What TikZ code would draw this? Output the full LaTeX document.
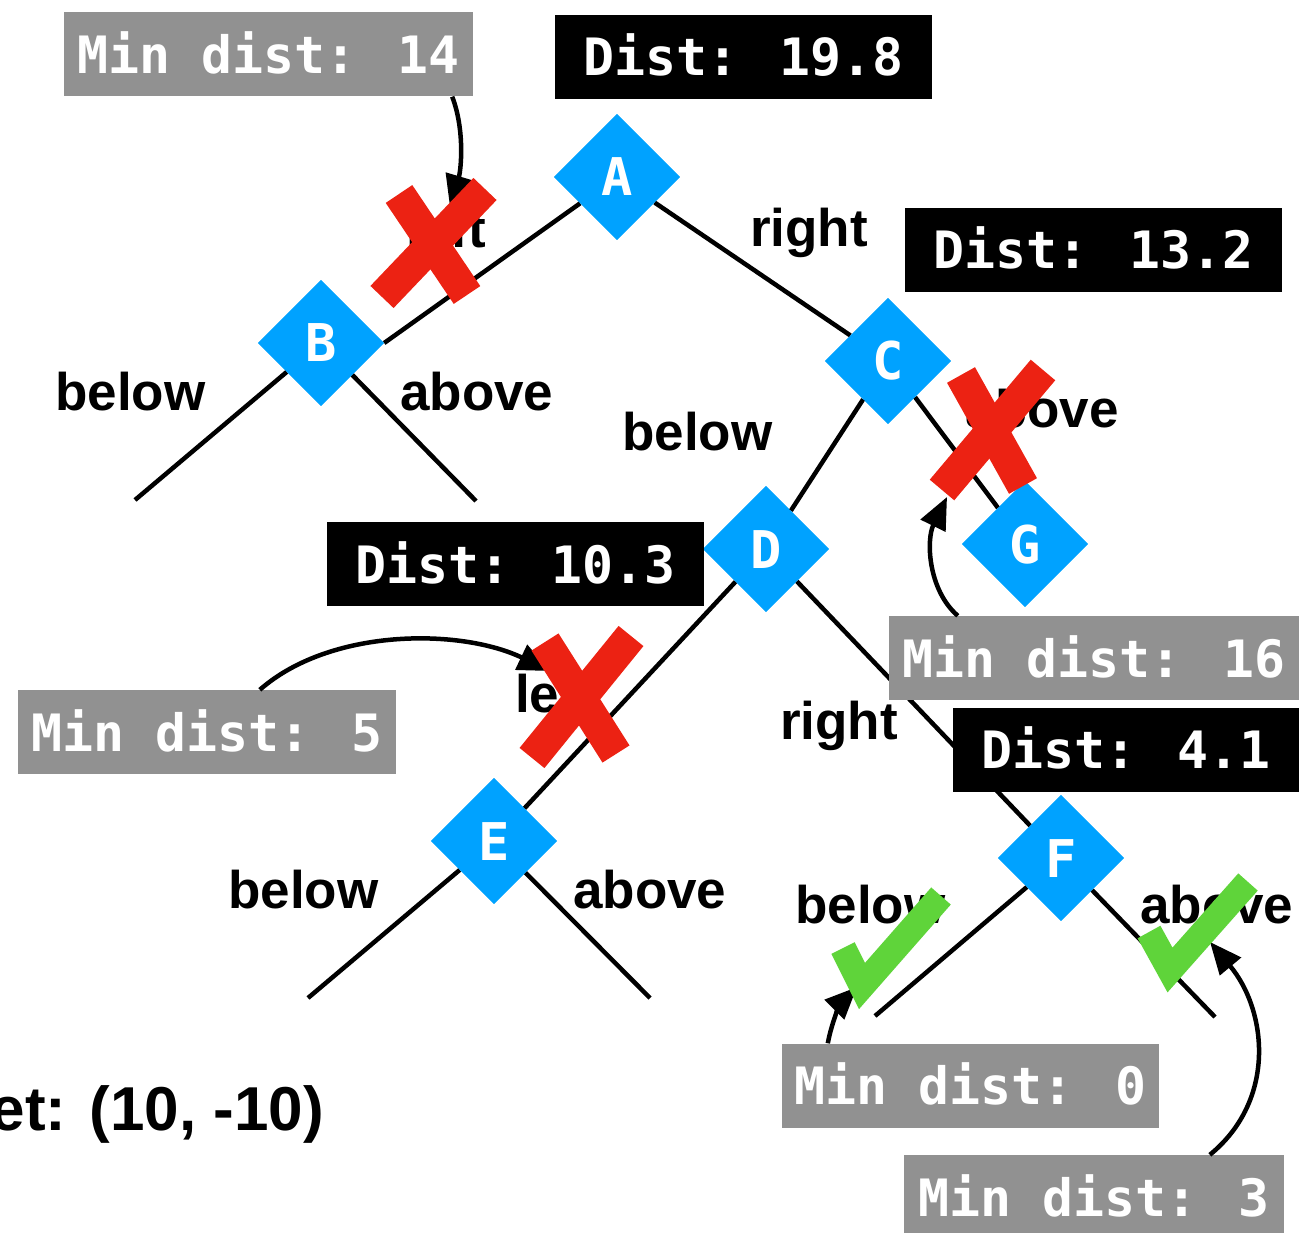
\documentclass[tikz,border=0pt]{standalone}
\usepackage{fontspec}
\setmainfont{Liberation Sans}
\newfontfamily\codefont{DejaVu Sans Mono}
\usetikzlibrary{shapes.geometric,arrows.meta}

\definecolor{nodeblue}{HTML}{00A2FF}
\definecolor{boxgray}{HTML}{919191}
\definecolor{crossred}{HTML}{EC2213}
\definecolor{checkgreen}{HTML}{5FD43A}

\tikzset{
  x=1pt, y=-1pt,
  edge/.style={line width=4.5pt},
  tnode/.style={diamond, fill=nodeblue, minimum size=126pt, inner sep=0pt,
    text=white, font=\codefont\bfseries\fontsize{52}{60}\selectfont,
    text height=38pt, text depth=0pt},
  distbox/.style={fill=black, text=white, inner sep=0pt, minimum height=84pt,
    font=\codefont\bfseries\fontsize{51.5}{60}\selectfont,
    text height=38pt, text depth=0pt},
  mindbox/.style={distbox, fill=boxgray},
  lbl/.style={font=\bfseries\fontsize{53}{60}\selectfont, inner sep=0pt},
  pointer/.style={line width=4.5pt, -{Triangle[length=32pt,width=27pt]}},
  crossmark/.style={line width=32pt, crossred},
  checkmark/.style={line width=26pt, checkgreen, line join=miter},
}

\begin{document}
\begin{tikzpicture}
\useasboundingbox (0,0) rectangle (1299,1233);

% tree nodes
\node[tnode] (A) at (617,177) {A};
\node[tnode] (B) at (321,343) {B};
\node[tnode] (C) at (888,361) {C};
\node[tnode] (D) at (766,549) {D};
\node[tnode] (E) at (494,841) {E};
\node[tnode] (F) at (1061,858) {F};
\node[tnode] (G) at (1025,544) {G};

% open leaf ends
\coordinate (Bl) at (135,500);
\coordinate (Br) at (476,501);
\coordinate (El) at (308,998);
\coordinate (Er) at (650,998);
\coordinate (Fl) at (875,1016);
\coordinate (Fr) at (1215,1017);

% branches
\draw[edge] (A) -- (B.east);
\draw[edge] (A) -- (C);
\draw[edge] (B) -- (Bl);
\draw[edge] (B) -- (Br);
\draw[edge] (C) -- (D);
\draw[edge] (C) -- (G);
\draw[edge] (D) -- (E);
\draw[edge] (D) -- (F);
\draw[edge] (E) -- (El);
\draw[edge] (E) -- (Er);
\draw[edge] (F) -- (Fl);
\draw[edge] (F) -- (Fr);

% nodes again, on top of the branches
\node[tnode] at (A) {A};
\node[tnode] at (B) {B};
\node[tnode] at (C) {C};
\node[tnode] at (D) {D};
\node[tnode] at (E) {E};
\node[tnode] at (F) {F};
\node[tnode] at (G) {G};

% branch labels
\node[lbl, anchor=base east] (lAB) at (486,248) {left};
\node[lbl, anchor=base west] (lAC) at (750,247) {right};
\node[lbl, anchor=base west] (lBl) at (55,410) {below};
\node[lbl, anchor=base west] (lBr) at (400,410) {above};
\node[lbl, anchor=base west] (lCD) at (622,450) {below};
\node[lbl, anchor=base east] (lCG) at (1119,428) {above};
\node[lbl, anchor=base west] (lDE) at (515,712) {left};
\node[lbl, anchor=base west] (lDF) at (780,739) {right};
\node[lbl, anchor=base west] (lEl) at (228,908) {below};
\node[lbl, anchor=base west] (lEr) at (573,908) {above};
\node[lbl, anchor=base west] (lFl) at (795,923) {below};
\node[lbl, anchor=base west] (lFr) at (1140,923) {above};
\node[lbl, anchor=base east, font=\bfseries\fontsize{62}{70}\selectfont] (target) at (324,1130) {et: (10, -10)};

% distance boxes
\node[mindbox, minimum width=409pt] (m14) at (268.5,54.5) {Min dist: 14};
\node[distbox, minimum width=377pt] (d198) at (743.5,57) {Dist: 19.8};
\node[distbox, minimum width=377pt] (d132) at (1093.5,250) {Dist: 13.2};
\node[distbox, minimum width=377pt] (d103) at (515.5,564) {Dist: 10.3};
\node[mindbox, minimum width=410pt] (m16) at (1094,658) {Min dist: 16};
\node[mindbox, minimum width=378pt] (m5) at (207,732) {Min dist: 5};
\node[distbox, minimum width=346pt] (d41) at (1126,749.5) {Dist: 4.1};
\node[mindbox, minimum width=377pt] (m0) at (970.5,1085.5) {Min dist: 0};
\node[mindbox, minimum width=380pt] (m3) at (1094,1197) {Min dist: 3};

% pointers from the bounds to the branches
\coordinate (p14) at (450,207);
\coordinate (p16) at (947,497);
\coordinate (p5) at (550,671);
\coordinate (p0) at (857,987);
\coordinate (p3) at (1210,942);
\draw[pointer] (m14.south east) ++(-21,0) .. controls (465,130) and (461,170) .. (p14);
\draw[pointer] (m16.north west) ++(69,0) .. controls (928,590) and (926,540) .. (p16);
\draw[pointer] (m5.north west) ++(242,0) .. controls (330,628) and (460,628) .. (p5);
\draw[pointer] (m0.north west) ++(46,0) .. controls (832,1020) and (842,1002) .. (p0);
\draw[pointer] (m3.north west) ++(306,0) .. controls (1277,1100) and (1267,1010) .. (p3);

% pruned branches
\draw[crossmark] (399,194) -- (467,295);
\draw[crossmark] (485,189) -- (382,297);
\draw[crossmark] (961,375) -- (1023,486);
\draw[crossmark] (1043,370) -- (942,490);
\draw[crossmark] (545,642) -- (616,754);
\draw[crossmark] (631,636) -- (532,758);

% searched branches
\draw[checkmark] (843,948) -- (862,986) -- (941,896);
\draw[checkmark] (1149,932) -- (1170,970) -- (1248,882);

\end{tikzpicture}
\end{document}
